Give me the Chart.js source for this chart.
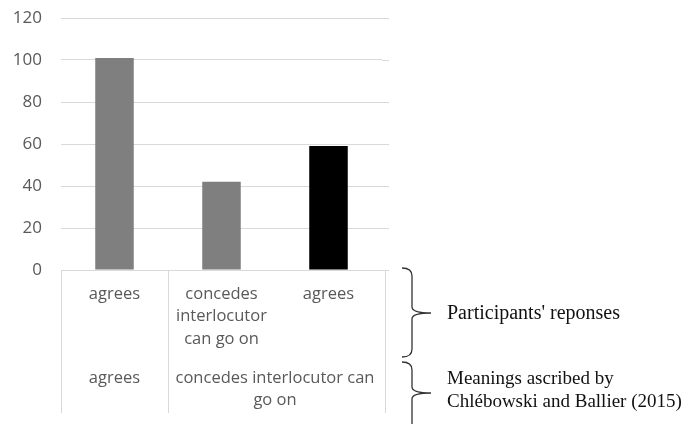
<!DOCTYPE html>
<html>
<head>
<meta charset="utf-8">
<script src="https://cdn.jsdelivr.net/npm/chart.js@4"></script>
<style>
html,body{margin:0;padding:0;background:#fff;}
#wrap{width:685px;height:424px;position:relative;}
</style>
</head>
<body>
<div id="wrap"><canvas id="c"></canvas></div>
<script>
// ---- data ----
const categories = [["agrees"], ["concedes", "interlocutor", "can go on"], ["agrees"]];
const values = [101, 42, 59];
const groupLabels = [["agrees"], ["concedes interlocutor can", "go on"]];
const groupSpans = [1, 2];
const bracketLabels = [["Participants' reponses"], ["Meanings ascribed by", "Chlébowski and Ballier (2015)"]];
const yMin = 0, yMax = 120, yStep = 20;

// ---- styles ----
const barColors = ["#7f7f7f", "#7f7f7f", "#000000"];
const gridColor = "#d9d9d9";
const textColor = "#595959";
const sansFont = "'Open Sans', sans-serif";

const extrasPlugin = {
  id: 'extras',
  afterDraw(chart) {
    const ctx = chart.ctx;
    const a = chart.chartArea;
    const xs = chart.scales.x, ys = chart.scales.y;
    ctx.save();
    ctx.strokeStyle = gridColor;
    ctx.lineWidth = 1;
    ys.ticks.forEach(t => {
      const y = Math.round(ys.getPixelForValue(t.value)) + 0.5;
      ctx.beginPath();
      ctx.moveTo(a.right, y);
      ctx.lineTo(a.right + 7, y);
      ctx.stroke();
    });
    const half = (xs.getPixelForValue(1) - xs.getPixelForValue(0)) / 2;
    const tableBottom = 413;
    const bounds = [];
    let idx = 0;
    bounds.push(xs.getPixelForValue(0) - half);
    groupSpans.forEach(s => { idx += s; bounds.push(xs.getPixelForValue(idx - 1) + half); });
    bounds.forEach((bx, i) => {
      const x = Math.round(bx) + 0.5 + (i === bounds.length - 1 ? 3 : 0);
      ctx.beginPath();
      ctx.moveTo(x, a.bottom);
      ctx.lineTo(x, tableBottom);
      ctx.stroke();
    });
    ctx.fillStyle = textColor;
    ctx.font = "16.5px " + sansFont;
    ctx.textAlign = 'center';
    ctx.textBaseline = 'middle';
    idx = 0;
    groupLabels.forEach((lines, g) => {
      const first = idx, last = idx + groupSpans[g] - 1;
      idx += groupSpans[g];
      const cx = (xs.getPixelForValue(first) + xs.getPixelForValue(last)) / 2;
      lines.forEach((ln, k) => ctx.fillText(ln, cx, 378 + k * 22.5));
    });
    ctx.strokeStyle = "#333";
    ctx.lineWidth = 1.3;
    function brace(top, tip, bottom) {
      const x0 = 402, xv = 412, xt = 431;
      ctx.beginPath();
      ctx.moveTo(x0, top);
      ctx.quadraticCurveTo(xv, top, xv, top + 8);
      ctx.lineTo(xv, tip - 6);
      ctx.quadraticCurveTo(xv, tip, xt, tip);
      ctx.moveTo(xt, tip);
      ctx.quadraticCurveTo(xv, tip, xv, tip + 6);
      ctx.lineTo(xv, bottom - 8);
      ctx.quadraticCurveTo(xv, bottom, x0, bottom);
      ctx.stroke();
    }
    brace(268, 313, 357);
    brace(362, 393, 440);
    ctx.fillStyle = "#111";
    ctx.textAlign = 'left';
    ctx.font = "20px 'Liberation Serif', 'Times New Roman', serif";
    ctx.fillText(bracketLabels[0][0], 447, 314);
    ctx.font = "19px 'Liberation Serif', 'Times New Roman', serif";
    ctx.fillText(bracketLabels[1][0], 447, 379);
    ctx.fillText(bracketLabels[1][1], 447, 402);
    ctx.restore();
  }
};

new Chart(document.getElementById('c'), {
  type: 'bar',
  data: {
    labels: categories,
    datasets: [{
      data: values,
      backgroundColor: barColors,
      borderWidth: 0,
      barPercentage: 0.36,
      categoryPercentage: 1.0
    }]
  },
  options: {
    responsive: true,
    maintainAspectRatio: false,
    animation: false,
    events: [],
    layout: { padding: { left: 0, right: 303, top: 18, bottom: 0 } },
    plugins: { legend: { display: false }, tooltip: { enabled: false } },
    scales: {
      y: {
        min: yMin, max: yMax,
        ticks: { stepSize: yStep, color: textColor, padding: 19, font: { family: sansFont, size: 17 } },
        grid: { color: gridColor, drawTicks: false, lineWidth: 1 },
        border: { display: false },
        afterFit(s) { s.width = 61; s.paddingTop = 0; s.paddingBottom = 0; }
      },
      x: {
        ticks: { color: textColor, padding: 13, maxRotation: 0, autoSkip: false, font: { family: sansFont, size: 16.5, lineHeight: 1.36 } },
        grid: { display: false, drawTicks: false },
        border: { display: true, color: gridColor, width: 1 },
        afterFit(s) { s.height = 154; s.paddingLeft = 0; s.paddingRight = 0; }
      }
    }
  },
  plugins: [extrasPlugin]
});
</script>
</body>
</html>
